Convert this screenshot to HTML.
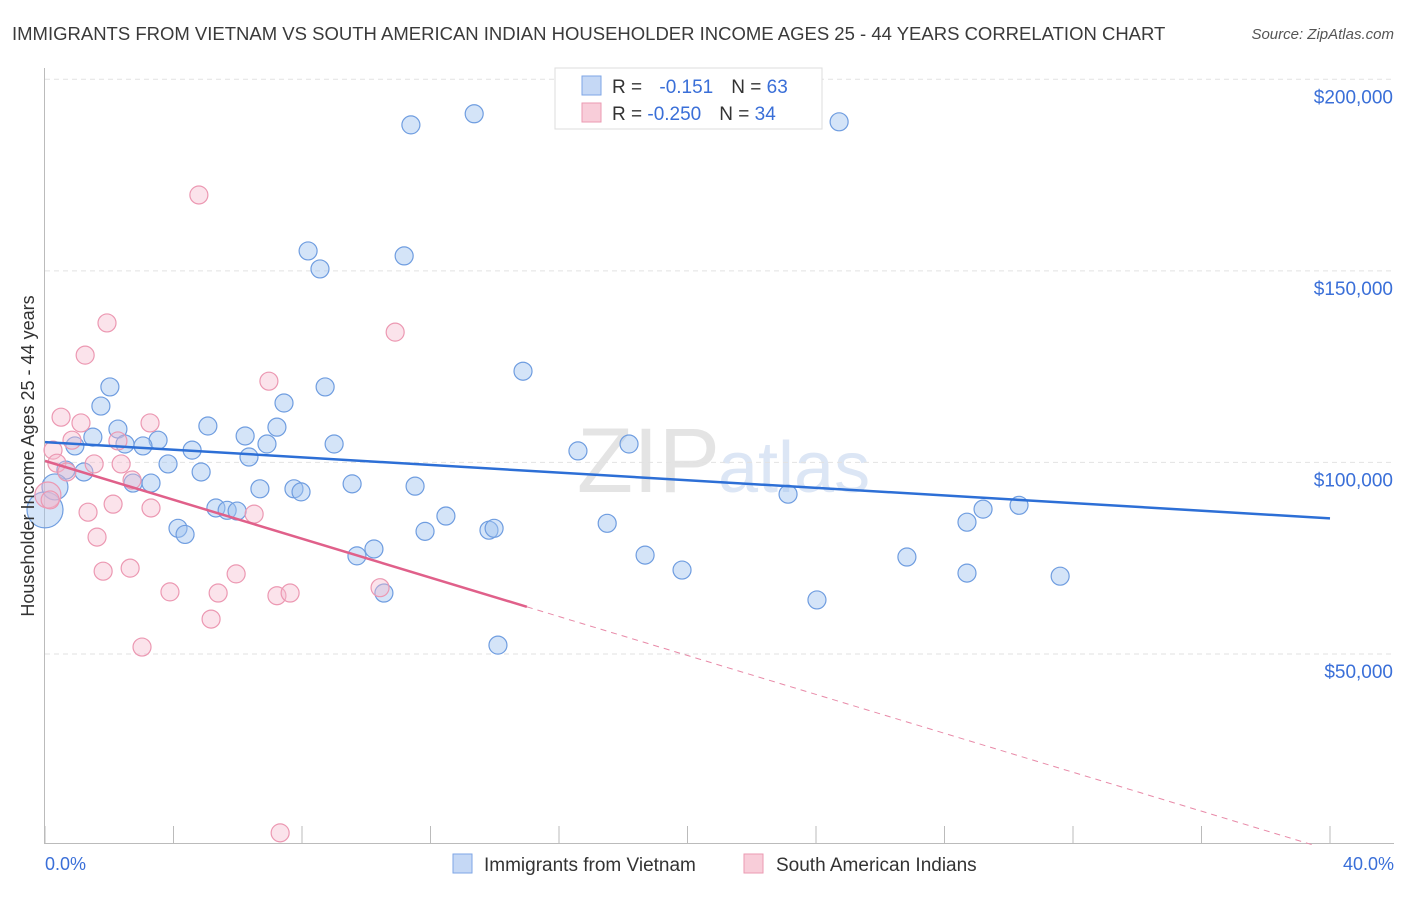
<!DOCTYPE html>
<html><head><meta charset="utf-8"><style>
body{margin:0;background:#fff;font-family:"Liberation Sans",sans-serif}
svg text{font-family:"Liberation Sans",sans-serif}
</style></head><body>
<svg id="c" width="1406" height="892">
<text x="12" y="40" font-size="18.5" fill="#3a3a3a">IMMIGRANTS FROM VIETNAM VS SOUTH AMERICAN INDIAN HOUSEHOLDER INCOME AGES 25 - 44 YEARS CORRELATION CHART</text>
<text x="1394" y="39" font-size="15" fill="#555" text-anchor="end" font-style="italic">Source: ZipAtlas.com</text>
<text x="720" y="492" font-size="92" fill="#e4e4e4" text-anchor="end" font-family="Liberation Serif">ZIP</text>
<text x="718" y="492" font-size="72" fill="#dce6f5">atlas</text>
<g id="grid"></g><g id="axes"></g><g id="marks"></g>
<text transform="translate(34,456) rotate(-90)" font-size="18" fill="#333" text-anchor="middle">Householder Income Ages 25 - 44 years</text>
<text x="45" y="870" font-size="18" fill="#3a6fd8">0.0%</text>
<text x="1394" y="870" font-size="18" fill="#3a6fd8" text-anchor="end">40.0%</text>
<g>
<rect x="555" y="68" width="267" height="61" fill="#fff" stroke="#ddd"/>
<rect x="582" y="76" width="19" height="19" fill="#c5d8f5" stroke="#7ea6e6"/>
<rect x="582" y="103" width="19" height="19" fill="#f8cdd9" stroke="#eb9ab2"/>
<text x="612" y="93" font-size="19" fill="#333">R = <tspan fill="#3a6fd8" dx="12">-0.151</tspan><tspan dx="18" fill="#333">N = </tspan><tspan fill="#3a6fd8">63</tspan></text>
<text x="612" y="120" font-size="19" fill="#333">R = <tspan fill="#3a6fd8">-0.250</tspan><tspan dx="18" fill="#333">N = </tspan><tspan fill="#3a6fd8">34</tspan></text>
</g>
<g>
<rect x="453" y="854" width="19" height="19" fill="#c5d8f5" stroke="#7ea6e6"/>
<text x="484" y="871" font-size="19" fill="#333">Immigrants from Vietnam</text>
<rect x="744" y="854" width="19" height="19" fill="#f8cdd9" stroke="#eb9ab2"/>
<text x="776" y="871" font-size="19" fill="#333">South American Indians</text>
</g>
</svg>
<script>
const yTicks=[50,100,150,200];
const yTickLabels=["$50,000","$100,000","$150,000","$200,000"];
const xTicks=[0,4,8,12,16,20,24,28,32,36,40];
const blueX=[11.39,13.36,24.72,8.19,8.56,11.18,14.88,2.02,8.72,1.74,7.44,5.07,7.22,2.27,1.49,6.23,2.49,3.52,3.05,6.91,9.00,4.58,18.18,16.59,6.35,3.83,0.93,1.21,0.65,4.86,2.74,3.30,6.69,7.75,7.97,9.56,11.52,23.13,5.32,5.67,5.98,12.48,30.32,29.20,28.70,17.50,11.83,4.14,4.36,13.82,13.98,10.24,9.71,18.68,26.83,19.83,28.70,31.60,10.55,24.03,14.10,0,0.31];
const blueY=[188.1,191.0,188.9,155.2,150.5,153.9,123.8,119.7,119.7,114.7,115.5,109.5,109.2,108.7,106.6,106.9,104.8,105.8,104.3,104.8,104.8,103.2,104.8,103.0,101.4,99.6,104.3,97.5,98.0,97.5,94.6,94.6,93.1,93.1,92.3,94.4,93.8,91.7,88.1,87.5,87.3,86.0,88.8,87.8,84.4,84.1,82.0,82.8,81.2,82.3,82.8,77.4,75.6,75.8,75.3,71.9,71.1,70.3,65.9,64.1,52.3,87.6,93.6];
const blueR=[9,9,9,9,9,9,9,9,9,9,9,9,9,9,9,9,9,9,9,9,9,9,9,9,9,9,9,9,9,9,9,9,9,9,9,9,9,9,9,9,9,9,9,9,9,9,9,9,9,9,9,9,9,9,9,9,9,9,9,9,9,18,13];
const pinkX=[4.79,1.93,1.25,10.90,6.97,0.50,3.27,1.12,0.84,2.27,0.25,1.53,2.37,0.37,0.68,2.71,2.12,3.30,1.34,6.51,1.62,1.81,2.65,5.95,3.89,5.39,7.22,7.63,10.43,5.17,3.02,7.32,0.09,0.16];
const pinkY=[169.8,136.4,128.0,134.0,121.2,111.8,110.3,110.3,105.8,105.6,103.2,99.6,99.6,99.8,97.5,95.4,89.1,88.1,87.0,86.5,80.5,71.6,72.4,70.9,66.2,65.9,65.2,65.9,67.3,59.1,51.8,3.3,91.5,90.2];
const pinkR=[9,9,9,9,9,9,9,9,9,9,9,9,9,9,9,9,9,9,9,9,9,9,9,9,9,9,9,9,9,9,9,9,13,9];
const blueTrend=[105.3,85.4];   // at 0% and 40%
const pinkTrend=[100.4,-1.2];   // at 0% and 40%
const pinkSolidEnd=15;
const X=v=>45+v/40*1285;
const Y=v=>845.5-v*3.831;
const NS="http://www.w3.org/2000/svg";
function mk(t,a,p){const e=document.createElementNS(NS,t);for(const k in a)e.setAttribute(k,a[k]);p.appendChild(e);return e;}
const grid=document.getElementById('grid'),axes=document.getElementById('axes'),marks=document.getElementById('marks');
yTicks.forEach((t,i)=>{
 const l=mk('line',{x1:45,x2:1394,y1:Y(t),y2:Y(t),stroke:'#e2e2e2','stroke-dasharray':'5,4'},grid);
 
 
 const tx=mk('text',{x:1393,y:Y(t)+24,'font-size':19,fill:'#3a6fd8','text-anchor':'end'},grid);
 tx.textContent=yTickLabels[i];
 
 
});
const ax=mk('line',{x1:45,x2:1394,y1:843.5,y2:843.5,stroke:'#bbb'},axes);


const ay=mk('line',{x1:44.5,x2:44.5,y1:68,y2:844,stroke:'#bbb'},axes);


xTicks.forEach(t=>{
 const l=mk('line',{x1:X(t),x2:X(t),y1:826,y2:844,stroke:'#bbb'},axes);
 
 
});
blueX.forEach((x,i)=>{
 const c=mk('circle',{cx:X(x),cy:Y(blueY[i]),r:blueR[i],fill:'rgba(160,196,240,0.45)',stroke:'#6f9de0','stroke-width':1.2},marks);
 
 
});
pinkX.forEach((x,i)=>{
 const c=mk('circle',{cx:X(x),cy:Y(pinkY[i]),r:pinkR[i],fill:'rgba(246,185,204,0.4)',stroke:'#ec98b2','stroke-width':1.2},marks);
 
 
});
const bl=mk('line',{x1:X(0),y1:Y(blueTrend[0]),x2:X(40),y2:Y(blueTrend[1]),stroke:'#2d6fd6','stroke-width':2.5},marks);


const pv=x=>pinkTrend[0]+(pinkTrend[1]-pinkTrend[0])*x/40;
const ps=mk('line',{x1:X(0),y1:Y(pv(0)),x2:X(pinkSolidEnd),y2:Y(pv(pinkSolidEnd)),stroke:'#e0608a','stroke-width':2.5},marks);


const xe=pinkTrend[0]/(pinkTrend[0]-pinkTrend[1])*40;
const pd=mk('line',{x1:X(pinkSolidEnd),y1:Y(pv(pinkSolidEnd)),x2:X(xe),y2:Y(0),stroke:'#e88aa8','stroke-width':1,'stroke-dasharray':'6,5'},marks);


</script>
</body></html>
